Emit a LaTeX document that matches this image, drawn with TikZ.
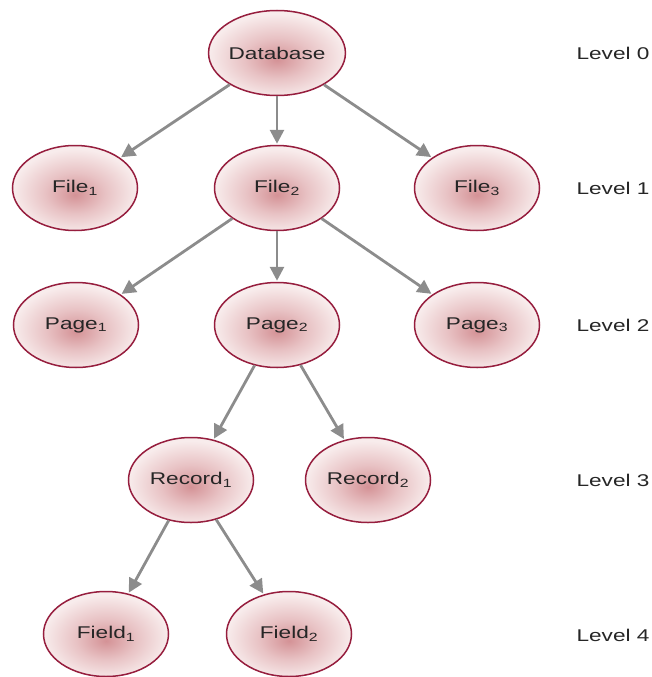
\documentclass[tikz,border=0pt]{standalone}
\usepackage{fontspec}
\setmainfont{Liberation Sans}
\newfontfamily\treefont[FakeStretch=1.33]{Liberation Sans}
\usetikzlibrary{shapes.geometric,arrows.meta}
\definecolor{rimred}{RGB}{150,30,62}
\definecolor{pinkin}{RGB}{212,146,150}
\definecolor{pinkmid}{RGB}{232,194,196}
\definecolor{pinkout}{RGB}{248,236,236}
\definecolor{linkgray}{RGB}{140,140,140}
\pgfdeclareradialshading{pinkball}{\pgfpoint{0bp}{-4bp}}{color(0bp)=(pinkin);color(12bp)=(pinkmid);color(25bp)=(pinkout);color(50bp)=(pinkout)}
\tikzset{
	ell/.style={ellipse, draw=rimred, line width=1.5pt, shading=pinkball, minimum width=125pt, minimum height=85pt, inner sep=0pt, font=\treefont\fontsize{17}{20}\selectfont, text=black!85},
	link/.style={draw=linkgray, line width=2.8pt, -{Triangle[length=14pt,width=14pt]}, shorten >=1pt},
	lvl/.style={font=\treefont\fontsize{17}{20}\selectfont, text=black!85}
}

\begin{document}
\begin{tikzpicture}[x=1pt,y=-1pt]
	\useasboundingbox (0,0) rectangle (652,677);
	
	\node[ell] (db) at (277,53) {Database};
	
	\node[ell] (file1) at (75,188) {File\textsubscript{1}};
	\node[ell] (file2) at (277,188) {File\textsubscript{2}};
	\node[ell] (file3) at (477,188) {File\textsubscript{3}};
	
	\node[ell] (page1) at (76,325) {Page\textsubscript{1}};
	\node[ell] (page2) at (277,325) {Page\textsubscript{2}};
	\node[ell] (page3) at (477,325) {Page\textsubscript{3}};
	
	\node[ell] (rec1) at (191,480) {Record\textsubscript{1}};
	\node[ell] (rec2) at (368,480) {Record\textsubscript{2}};
	
	\node[ell] (fld1) at (106,634) {Field\textsubscript{1}};
	\node[ell] (fld2) at (289,634) {Field\textsubscript{2}};
	
	\node[lvl] (lv0) at (613,53) {Level 0};
	\node[lvl] (lv1) at (613,188) {Level 1};
	\node[lvl] (lv2) at (613,325) {Level 2};
	\node[lvl] (lv3) at (613,480) {Level 3};
	\node[lvl] (lv4) at (613,635) {Level 4};
	
	\draw[link] (db) -- (file1);
	\draw[link] (db) -- (file2);
	\draw[link] (db) -- (file3);
	\draw[link] (file2) -- (page1);
	\draw[link] (file2) -- (page2);
	\draw[link] (file2) -- (page3);
	\draw[link] (page2) -- (rec1);
	\draw[link] (page2) -- (rec2);
	\draw[link] (rec1) -- (fld1);
	\draw[link] (rec1) -- (fld2);
\end{tikzpicture}
\end{document}
